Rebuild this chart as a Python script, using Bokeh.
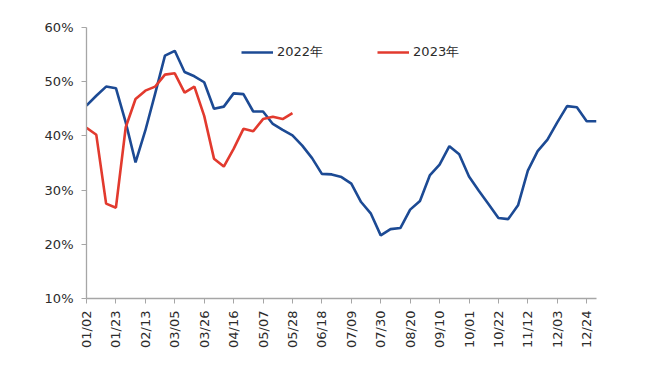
import math
from bokeh.plotting import figure
from bokeh.models import FixedTicker, PrintfTickFormatter, Legend, LegendItem, Range1d
from bokeh.embed import file_html
from bokeh.resources import INLINE

# week index (0 = 01/02) and values in %
y2022 = [45.6, 47.4, 49.1, 48.8, 42.5, 35.1, 41.0, 47.8, 54.8, 55.7,
         51.8, 51.0, 49.9, 45.0, 45.4, 47.85, 47.7, 44.5, 44.5, 42.2,
         41.1, 40.1, 38.2, 35.9, 33.0, 32.9, 32.4, 31.2, 27.8, 25.65,
         21.65, 22.8, 23.0, 26.4, 28.0, 32.7, 34.7, 38.1, 36.6, 32.5,
         29.9, 27.4, 24.85, 24.65, 27.2, 33.6, 37.2, 39.3, 42.5, 45.5,
         45.3, 42.7, 42.7]
y2023 = [41.5, 40.2, 27.5, 26.75, 41.6, 46.8, 48.35, 49.1, 51.3, 51.55,
         48.0, 49.1, 43.7, 35.8, 34.35, 37.6, 41.3, 40.85, 43.1, 43.55,
         43.1, 44.2]
x2022 = list(range(len(y2022)))
x2023 = list(range(len(y2023)))

tick_labels = ["01/02", "01/23", "02/13", "03/05", "03/26", "04/16", "05/07",
               "05/28", "06/18", "07/09", "07/30", "08/20", "09/10", "10/01",
               "10/22", "11/12", "12/03", "12/24"]
tick_pos = [3 * i for i in range(len(tick_labels))]
y_ticks = [10, 20, 30, 40, 50, 60]

BLUE = "#1c4a94"
RED = "#e23a2e"
AXIS = "#a6a6a6"
TXT = "#2b2b2b"
FONT = "DejaVu Sans"

p = figure(width=660, height=360, frame_width=510, frame_height=271,
           output_backend="svg", toolbar_location=None,
           x_range=Range1d(0, 52), y_range=Range1d(10, 60),
           min_border_left=86, min_border_right=64, min_border_top=27,
           min_border_bottom=62)
p.outline_line_color = None
p.xgrid.visible = False
p.ygrid.visible = False

r1 = p.line(x2022, y2022, line_color=BLUE, line_width=2.6)
r2 = p.line(x2023, y2023, line_color=RED, line_width=2.6)

xa = p.xaxis[0]
xa.ticker = FixedTicker(ticks=tick_pos)
xa.major_label_overrides = {t: l for t, l in zip(tick_pos, tick_labels)}
xa.major_label_orientation = math.pi / 2
xa.minor_tick_line_color = None
xa.major_tick_in = 0
xa.major_tick_out = 5
xa.major_label_standoff = 7

ya = p.yaxis[0]
ya.ticker = FixedTicker(ticks=y_ticks)
ya.formatter = PrintfTickFormatter(format="%d%%")
ya.minor_tick_line_color = None
ya.major_tick_in = 0
ya.major_tick_out = 5
ya.major_label_standoff = 8

for ax in (xa, ya):
    ax.axis_line_color = AXIS
    ax.major_tick_line_color = AXIS
    ax.axis_line_width = 1.3
    ax.major_label_text_font = FONT
    ax.major_label_text_font_size = "13px"
    ax.major_label_text_color = TXT

legend = Legend(items=[LegendItem(label="2022年", renderers=[r1]),
                       LegendItem(label="2023年", renderers=[r2])],
                orientation="horizontal", location=(155, 236),
                padding=0, margin=0, spacing=54, glyph_width=32,
                label_standoff=4, border_line_color=None,
                background_fill_alpha=0, label_text_font=FONT,
                label_text_font_size="13px", label_text_color=TXT)
p.add_layout(legend, "center")

open("out.html", "w").write(file_html(p, INLINE))
